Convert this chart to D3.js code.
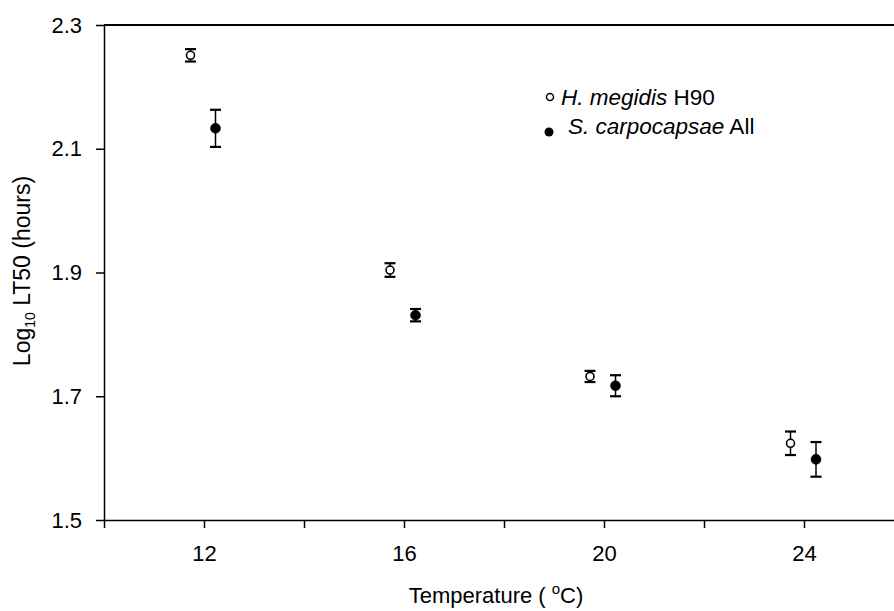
<!DOCTYPE html>
<html>
<head>
<meta charset="utf-8">
<script src="https://cdn.jsdelivr.net/npm/d3@7/dist/d3.min.js"></script>
<style>
  html, body { margin: 0; padding: 0; background: #fff; }
  svg { display: block; }
  text { font-family: "Liberation Sans", Arial, sans-serif; fill: #000; }
</style>
</head>
<body>
<svg id="chart" width="894" height="611"></svg>
<script>
// ---- data ----
const xTicks = [10, 12, 14, 16, 18, 20, 22, 24, 26];
const xTickLabels = ["", "12", "", "16", "", "20", "", "24", ""];
const yTicks = [1.5, 1.7, 1.9, 2.1, 2.3];
const yTickLabels = ["1.5", "1.7", "1.9", "2.1", "2.3"];

const seriesNames = ["H. megidis", "S. carpocapsae"];
const seriesSuffix = [" H90", " All"];

// x positions as plotted (points offset around each temperature)
const hX = [11.73, 15.72, 19.72, 23.73];
const hMean = [2.251, 1.904, 1.732, 1.624];
const hErr = [0.010, 0.011, 0.009, 0.019];

const sX = [12.23, 16.23, 20.23, 24.24];
const sMean = [2.133, 1.831, 1.717, 1.598];
const sErr = [0.030, 0.010, 0.017, 0.028];

// ---- layout ----
const svg = d3.select("#chart");
const pL = 104, pR = 904, pT = 25, pB = 520;
const x = d3.scaleLinear().domain([10, 26]).range([pL, pR]);
const y = d3.scaleLinear().domain([1.5, 2.3]).range([pB, pT]);

// top border
svg.append("line").attr("x1", pL).attr("x2", pR).attr("y1", pT).attr("y2", pT)
  .attr("stroke", "#000").attr("stroke-width", 2);

// x axis
const xAxis = d3.axisBottom(x).tickValues(xTicks)
  .tickFormat((d, i) => xTickLabels[i]).tickSize(8).tickSizeOuter(0).tickPadding(17);
const gx = svg.append("g").attr("transform", `translate(0,${pB})`).call(xAxis);
gx.select(".domain").attr("stroke-width", 1.5);
gx.selectAll(".tick line").attr("stroke-width", 1.5);
gx.selectAll(".tick text").attr("font-size", 22).attr("font-family", "Liberation Sans, Arial, sans-serif");

// y axis
const yAxis = d3.axisLeft(y).tickValues(yTicks)
  .tickFormat((d, i) => yTickLabels[i]).tickSize(8).tickSizeOuter(0).tickPadding(14);
const gy = svg.append("g").attr("transform", `translate(${pL},0)`).call(yAxis);
gy.select(".domain").attr("stroke-width", 1.5);
gy.selectAll(".tick line").attr("stroke-width", 1.5);
gy.selectAll(".tick text").attr("font-size", 22).attr("font-family", "Liberation Sans, Arial, sans-serif");

// axis titles
const xt = svg.append("text").attr("x", 496).attr("y", 603).attr("text-anchor", "middle")
  .attr("font-size", 22);
xt.append("tspan").text("Temperature ( ");
xt.append("tspan").attr("font-size", 15).attr("dy", -9).text("o");
xt.append("tspan").attr("dy", 9).text("C)");

const yt = svg.append("text").attr("transform", "translate(30,271) rotate(-90)")
  .attr("text-anchor", "middle").attr("font-size", 23);
yt.append("tspan").text("Log");
yt.append("tspan").attr("font-size", 14).attr("dy", 5).text("10");
yt.append("tspan").attr("dy", -5).text(" LT50 (hours)");

// error bars + points
function drawSeries(xs, means, errs, filled) {
  const g = svg.append("g");
  const data = xs.map((d, i) => ({ x: d, m: means[i], e: errs[i] }));
  g.selectAll(".eb").data(data).enter().append("line")
    .attr("x1", d => x(d.x)).attr("x2", d => x(d.x))
    .attr("y1", d => y(d.m - d.e)).attr("y2", d => y(d.m + d.e))
    .attr("stroke", "#000").attr("stroke-width", 1.5);
  [1, -1].forEach(s => {
    g.selectAll(".cap" + (s > 0 ? "a" : "b")).data(data).enter().append("line")
      .attr("x1", d => x(d.x) - 5.5).attr("x2", d => x(d.x) + 5.5)
      .attr("y1", d => y(d.m + s * d.e)).attr("y2", d => y(d.m + s * d.e))
      .attr("stroke", "#000").attr("stroke-width", 2.2);
  });
  g.selectAll("circle").data(data).enter().append("circle")
    .attr("cx", d => x(d.x)).attr("cy", d => y(d.m))
    .attr("r", filled ? 5 : 4)
    .attr("fill", filled ? "#000" : "#fff")
    .attr("stroke", "#000").attr("stroke-width", filled ? 0.5 : 1.6);
}
drawSeries(hX, hMean, hErr, false);
drawSeries(sX, sMean, sErr, true);

// legend
const leg = svg.append("g");
leg.append("circle").attr("cx", 550).attr("cy", 97).attr("r", 3.5)
  .attr("fill", "#fff").attr("stroke", "#000").attr("stroke-width", 1.5);
leg.append("circle").attr("cx", 549).attr("cy", 132).attr("r", 4.5).attr("fill", "#000");
const l1 = leg.append("text").attr("x", 561).attr("y", 105).attr("font-size", 22.5);
l1.append("tspan").attr("font-style", "italic").text(seriesNames[0]);
l1.append("tspan").text(seriesSuffix[0]);
const l2 = leg.append("text").attr("x", 568).attr("y", 134).attr("font-size", 22.5);
l2.append("tspan").attr("font-style", "italic").text(seriesNames[1]);
l2.append("tspan").text(seriesSuffix[1]);
</script>
</body>
</html>
